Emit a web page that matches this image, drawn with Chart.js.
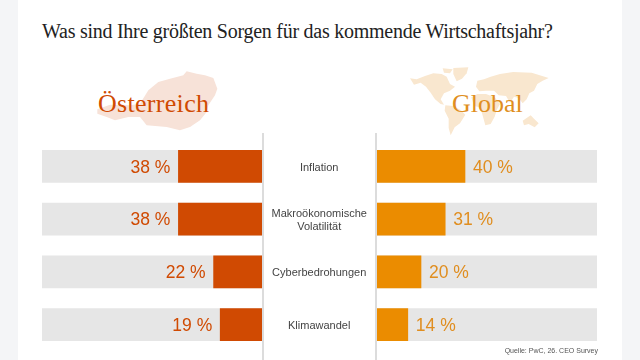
<!DOCTYPE html>
<html lang="de">
<head>
<meta charset="utf-8">
<title>Sorgen Wirtschaftsjahr</title>
<script src="https://cdn.jsdelivr.net/npm/chart.js@4"></script>
<style>
html, body { margin: 0; padding: 0; background: #fff; }
#page { position: relative; width: 640px; height: 360px; overflow: hidden; }
#page > * { position: absolute; }
.strip { top: 0; width: 18px; height: 360px; background: #f4f5f7; }
.sep { top: 133px; width: 2px; height: 227px; background: #dcdcdc; }
.serif { font-family: "Liberation Serif", serif; white-space: nowrap; }
#title { left: 42px; top: 20px; font-size: 20px; letter-spacing: -0.26px; color: #222; }
.head { top: 89px; font-size: 26px; }
#source { right: 42px; top: 347px; font: 7px "Liberation Sans", sans-serif; color: #555; }
</style>
</head>
<body>
<div id="page">
  <div class="strip" style="left:0"></div>
  <div class="strip" style="left:622px"></div>
  <div id="title" class="serif">Was sind Ihre größten Sorgen für das kommende Wirtschaftsjahr?</div>

  <svg style="left:90px;top:62px" width="140" height="78" viewBox="0 0 420 234">
    <path fill="#f7e2d8" d="M22 142 60 128 120 130 150 125 175 85 205 60 240 50 280 40 290 28 320 35 345 40 370 48 382 80 375 100 355 130 350 150 330 175 300 195 270 205 230 195 170 190 150 165 115 165 75 175 50 165 22 155Z"/>
  </svg>
  <svg style="left:400px;top:60px" width="150" height="80" viewBox="0 0 450 240">
    <g fill="#f9e7cf">
      <path d="M30 55 50 58 75 48 100 40 125 42 140 50 150 72 165 80 150 92 132 100 122 118 132 134 122 132 105 118 92 98 78 80 62 68 42 74Z"/>
      <path d="M128 25 158 28 150 40 132 38Z"/>
      <path d="M160 24 205 22 200 40 186 56 170 64 160 42Z"/>
      <path d="M136 136 160 138 182 150 196 164 180 190 164 202 152 226 146 204 146 176 134 152Z"/>
      <path d="M232 62 252 58 272 50 300 42 340 36 395 38 446 54 428 62 412 72 402 92 388 100 380 118 368 130 356 114 342 110 330 128 318 108 296 106 282 92 258 92 238 94 228 80Z"/>
      <path d="M214 112 232 102 258 102 284 112 300 132 290 150 284 170 272 192 256 196 246 160 240 142 222 138Z"/>
      <path d="M368 182 392 166 402 176 416 190 404 202 386 192 372 196Z"/>
    </g>
  </svg>
  <div class="head serif" style="left:98px;letter-spacing:0.3px;color:#d04a02">Österreich</div>
  <div class="head serif" style="left:452px;color:#e08e20">Global</div>

  <div class="sep" style="left:262px"></div>
  <div class="sep" style="left:375px"></div>

  <canvas id="austriaChart" width="334" height="211" style="left:42px;top:140px"></canvas>
  <canvas id="globalChart" width="220" height="211" style="left:377px;top:140px"></canvas>

  <div id="source">Quelle: PwC, 26. CEO Survey</div>
</div>

<script>
const categories = ['Inflation', ['Makroökonomische', 'Volatilität'], 'Cyberbedrohungen', 'Klimawandel'];
const austriaValues = [38, 38, 22, 19];
const globalValues = [40, 31, 20, 14];
const trackValues = [100, 100, 100, 100];

// schreibt die Prozentwerte neben die Balken
const valueLabels = {
    id: 'valueLabels',
    afterDatasetsDraw(chart, args, opts) {
        const ctx = chart.ctx;
        ctx.save();
        ctx.font = '17.5px "Liberation Sans", sans-serif';
        ctx.fillStyle = opts.color;
        ctx.textBaseline = 'middle';
        ctx.textAlign = opts.side === 'left' ? 'right' : 'left';
        chart.getDatasetMeta(0).data.forEach((bar, i) => {
            const x = opts.side === 'left' ? bar.x - 8 : bar.x + 8;
            ctx.fillText(chart.data.datasets[0].data[i] + ' %', x, bar.y + 1.5);
        });
        ctx.restore();
    }
};

function barChart(id, values, color, textColor, side) {
    const isLeft = side === 'left';
    return new Chart(document.getElementById(id), {
        type: 'bar',
        data: {
            labels: categories,
            datasets: [
                { data: values, backgroundColor: color, barThickness: 32, grouped: false, order: 1 },
                { data: trackValues, backgroundColor: '#e6e6e6', barThickness: 32, grouped: false, order: 2 }
            ]
        },
        options: {
            indexAxis: 'y',
            responsive: false,
            animation: false,
            layout: { padding: 0 },
            scales: {
                x: { display: false, min: 0, max: 100, reverse: isLeft },
                y: {
                    display: isLeft,
                    position: 'right',
                    grid: { display: false, drawTicks: false },
                    border: { display: false },
                    afterFit(axis) {
                        if (!isLeft) return;
                        axis.width = 114;
                        axis.paddingTop = 0;
                        axis.paddingBottom = 0;
                    },
                    ticks: {
                        crossAlign: 'center',
                        padding: 9.5,
                        labelOffset: 1.5,
                        color: '#444',
                        font: { family: '"Liberation Sans", sans-serif', size: 11, lineHeight: 1.2 }
                    }
                }
            },
            plugins: {
                legend: { display: false },
                tooltip: { enabled: false },
                valueLabels: { color: textColor, side: side }
            }
        },
        plugins: [valueLabels]
    });
}

barChart('austriaChart', austriaValues, '#d04a02', '#d04a02', 'left');
barChart('globalChart', globalValues, '#eb8c00', '#e08e20', 'right');
</script>
</body>
</html>
